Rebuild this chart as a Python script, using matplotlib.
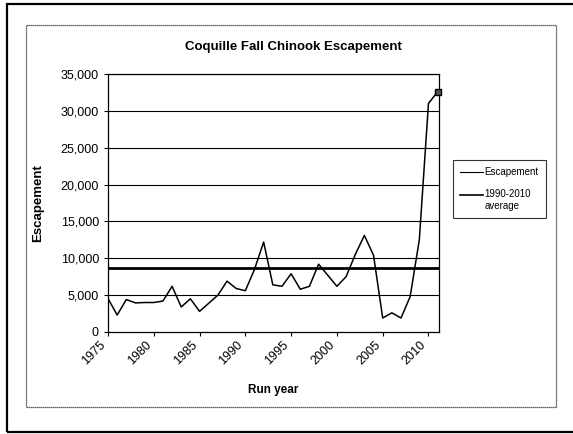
import matplotlib
matplotlib.use('Agg')
import matplotlib.pyplot as plt
from matplotlib.patches import Rectangle
from matplotlib.transforms import ScaledTranslation

plt.rcParams['font.family'] = ['Liberation Sans', 'DejaVu Sans']

# Coquille fall chinook spawner escapement by run year
years = list(range(1975, 2012))
escapement = [4550, 2300, 4400, 3950, 4000, 4000, 4200, 6200, 3400, 4500,
              2800, 3900, 5000, 6900, 5900, 5600, 8500, 12200, 6400, 6200,
              7900, 5800, 6200, 9200, 7700, 6200, 7500, 10500, 13100, 10400,
              1900, 2600, 1900, 4800, 12500, 31000, 32600]
avg_1990_2010 = 8700

W, H = 573, 434
fig = plt.figure(figsize=(W / 100, H / 100), dpi=100)

# page border and chart-area border
fig.patches.append(Rectangle((7 / W, 1 - 432 / H), 1.0, (432 - 4) / H,
                             transform=fig.transFigure, fill=False,
                             edgecolor='black', linewidth=1.6))
fig.patches.append(Rectangle((26 / W, 1 - 407 / H), (556 - 26) / W, (407 - 25) / H,
                             transform=fig.transFigure, fill=False,
                             edgecolor='#333333', linewidth=0.9, linestyle=(0, (1, 0.6))))

ax = fig.add_axes([108 / W, 1 - 332 / H, (439 - 108) / W, (332 - 74) / H])

for v in range(5000, 35001, 5000):
    ax.axhline(v, color='black', linewidth=0.8, zorder=1)

line_esc, = ax.plot(years, escapement, color='black', linewidth=1.1, zorder=3)
ax.plot(years[-1], escapement[-1], marker='s', markersize=4.5, color='black',
        markerfacecolor='#555555', clip_on=False, zorder=4)
line_avg = ax.axhline(avg_1990_2010, color='black', linewidth=2.0, zorder=2)

ax.set_xlim(1975, 2011.15)
ax.set_ylim(0, 35000)
ax.set_xticks(range(1975, 2011, 5))
ax.set_yticks(range(0, 35001, 5000))
ax.set_yticklabels([f'{v:,}' for v in range(0, 35001, 5000)], fontsize=9)
ax.set_xticklabels([str(y) for y in range(1975, 2011, 5)], fontsize=9,
                   rotation=45, ha='right', va='center', rotation_mode='anchor')
ax.tick_params(axis='both', direction='out', length=3, width=0.8, color='black')
ax.tick_params(axis='x', pad=5)
# nudge the slanted year labels to sit left of their ticks
shift = ScaledTranslation(-3 / 72, 0, fig.dpi_scale_trans)
for lbl in ax.get_xticklabels():
    lbl.set_transform(lbl.get_transform() + shift)
for s in ax.spines.values():
    s.set_linewidth(0.9)
    s.set_color('black')

ax.set_xlabel('Run year', fontsize=8.5, fontweight='bold', labelpad=12)
ax.set_ylabel('Escapement', fontsize=9.5, fontweight='bold', labelpad=12)
fig.text(293 / W, 1 - 47 / H, 'Coquille Fall Chinook Escapement', fontsize=9.5,
         fontweight='bold', ha='center', va='center')

leg = fig.legend([line_esc, line_avg], ['Escapement', '1990-2010\naverage'],
                 loc='upper left', bbox_to_anchor=(453 / W, 1 - 160 / H),
                 fontsize=7, frameon=True, fancybox=False, edgecolor='black',
                 handlelength=2.3, handletextpad=0.2, labelspacing=1.2,
                 borderpad=0.75, borderaxespad=0)
leg.get_frame().set_linewidth(0.8)
leg.get_lines()[0].set_linewidth(0.8)
leg.get_lines()[1].set_linewidth(1.2)
# keep the average handle level with the first line of its label
avg_handle = leg.get_lines()[1]
avg_handle.set_ydata([y + 3.5 for y in avg_handle.get_ydata()])

fig.savefig('out.png', dpi=100)
